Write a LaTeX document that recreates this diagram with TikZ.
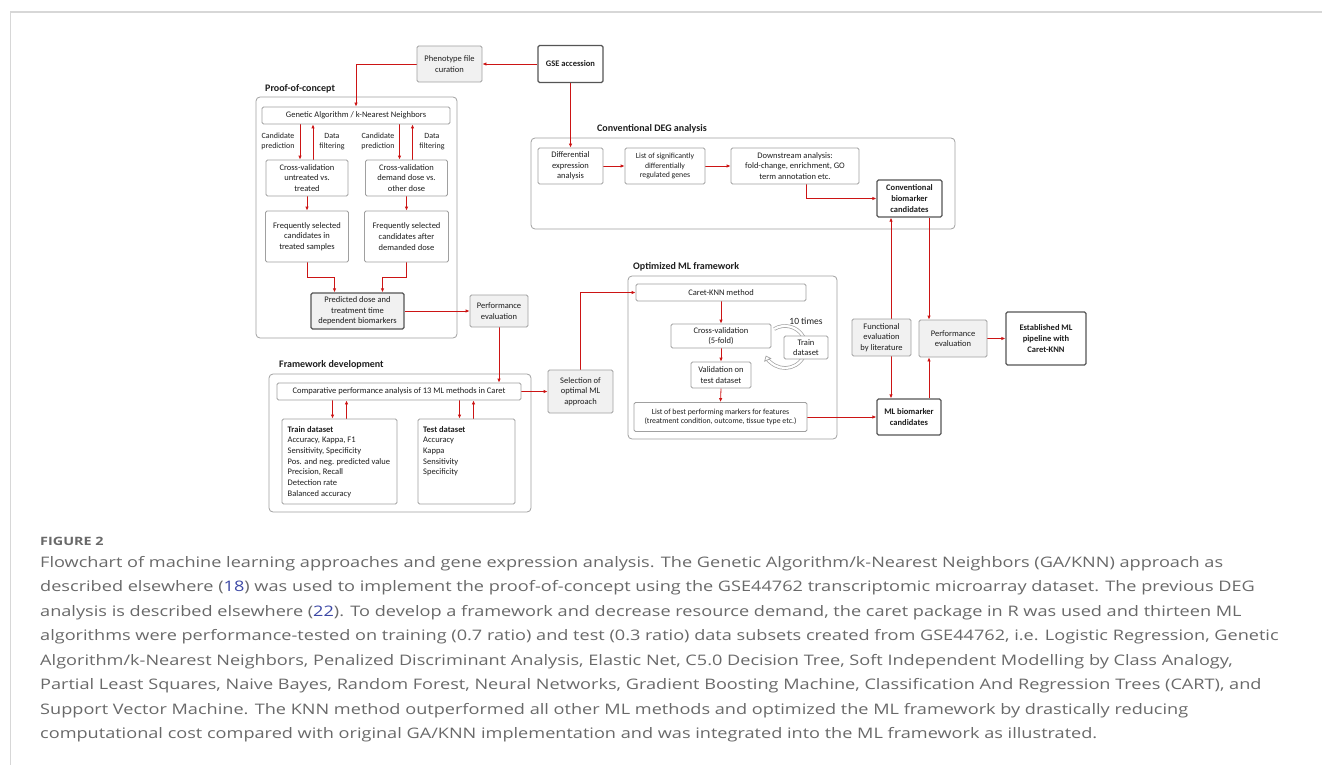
\documentclass[tikz,border=0pt]{standalone}
\usepackage{fontspec}
\setmainfont{Carlito}
\newfontfamily\capfont[FakeStretch=1.25]{Open Sans}
\usepackage{xcolor}
\usetikzlibrary{arrows.meta,backgrounds}
\pgfdeclarelayer{edgelayer}
\pgfdeclarelayer{nodelayer}
\pgfsetlayers{background,edgelayer,nodelayer,main}
\definecolor{arrowred}{RGB}{204,20,20}
\definecolor{boxgrey}{RGB}{160,160,160}
\definecolor{darkgrey}{RGB}{85,85,85}
\definecolor{fillgrey}{RGB}{241,241,241}
\definecolor{textgrey}{RGB}{30,30,30}
\definecolor{captiongrey}{RGB}{105,105,105}
\definecolor{rulegrey}{RGB}{215,215,215}
\definecolor{refblue}{RGB}{60,72,165}
\tikzstyle{box}=[draw=boxgrey,fill=white,rounded corners=1.5pt,inner sep=1pt,align=center,text=textgrey,line width=0.8pt,font=\fontsize{8.5}{10.7}\selectfont]
\tikzstyle{greybox}=[box,fill=fillgrey]
\tikzstyle{keybox}=[box,draw=darkgrey,line width=1.3pt,font=\bfseries\fontsize{8.5}{10.7}\selectfont]
\tikzstyle{smallbox}=[box,font=\fontsize{7.8}{9.6}\selectfont]
\tikzstyle{groupframe}=[draw=boxgrey,rounded corners=4pt,line width=0.8pt,inner sep=0pt]
\tikzstyle{framelabel}=[anchor=west,inner sep=0pt,text=textgrey,font=\bfseries\fontsize{10}{12}\selectfont]
\tikzstyle{sidelabel}=[inner sep=0pt,align=center,text=textgrey,font=\fontsize{8}{9.5}\selectfont]
\tikzstyle{listtext}=[inner sep=0pt,align=left,anchor=north west,text=textgrey,font=\fontsize{8.5}{10.7}\selectfont]
\tikzstyle{arr}=[draw=arrowred,line width=0.8pt,-{Latex[length=4pt,width=3.5pt]}]
\tikzstyle{looparrow}=[draw=boxgrey,double=white,double distance=2.2pt,line width=0.7pt,-{Triangle[open,length=5pt,width=8pt]}]
\tikzstyle{captiontext}=[inner sep=0pt,align=left,anchor=north west,text=captiongrey,font=\capfont\fontsize{14.5}{24.5}\selectfont]

\begin{document}
\begin{tikzpicture}[x=1pt,y=-1pt]
	\useasboundingbox (0,0) rectangle (1322,765);
	\draw [draw=rulegrey, line width=1.2pt] (1322,12) -- (10.5,12) -- (10.5,765);
	\begin{pgfonlayer}{nodelayer}
		\node [style=greybox, minimum width=65, minimum height=36] (pheno) at (449.5,64) {Phenotype file\\curation};
		\node [style=keybox, minimum width=65, minimum height=37] (gse) at (570.5,64) {GSE accession};
		\node [style=framelabel] (poclabel) at (265,89) {Proof-of-concept};
		\node [style=box, minimum width=188, minimum height=17] (ga) at (356,115.5) {Genetic Algorithm / k-Nearest Neighbors};
		\node [style=sidelabel] (candl) at (278,141.5) {Candidate\\prediction};
		\node [style=sidelabel] (filtl) at (332,141.5) {Data\\filtering};
		\node [style=sidelabel] (candr) at (378,141.5) {Candidate\\prediction};
		\node [style=sidelabel] (filtr) at (432,141.5) {Data\\filtering};
		\node [style=box, minimum width=82, minimum height=36] (cvl) at (307,178) {Cross-validation\\untreated vs.\\treated};
		\node [style=box, minimum width=82, minimum height=36] (cvr) at (406.5,178) {Cross-validation\\demand dose vs.\\other dose};
		\node [style=box, minimum width=83, minimum height=51] (freql) at (307,236.5) {Frequently selected\\candidates in\\treated samples};
		\node [style=box, minimum width=84, minimum height=51] (freqr) at (406.5,236.5) {Frequently selected\\candidates after\\demanded dose};
		\node [style=keybox, fill=fillgrey, font=\fontsize{8.5}{10.7}\selectfont, minimum width=93, minimum height=36] (pred) at (357.5,311) {Predicted dose and\\treatment time\\dependent biomarkers};
		\node [style=greybox, minimum width=58, minimum height=32] (perf1) at (499,311) {Performance\\evaluation};
		\node [style=framelabel] (fwlabel) at (279,365) {Framework development};
		\node [style=box, minimum width=244, minimum height=17] (comp) at (399,391.5) {Comparative performance analysis of 13 ML methods in Caret};
		\node [style=box, minimum width=115, minimum height=85] (train) at (339.5,461.5) {};
		\node [style=box, minimum width=97, minimum height=85] (test) at (466.5,461.5) {};
		\node [style=listtext] (trainlist) at (287.5,426) {\textbf{Train dataset}\\Accuracy, Kappa, F1\\Sensitivity, Specificity\\Pos. and neg. predicted value\\Precision, Recall\\Detection rate\\Balanced accuracy};
		\node [style=listtext] (testlist) at (423,426) {\textbf{Test dataset}\\Accuracy\\Kappa\\Sensitivity\\Specificity};
		\node [style=greybox, minimum width=65, minimum height=43] (sel) at (580.5,391.5) {Selection of\\optimal ML\\approach};
		\node [style=framelabel] (optlabel) at (633,267) {Optimized ML framework};
		\node [style=box, minimum width=170, minimum height=17] (caret) at (721,292.5) {Caret-KNN method};
		\node [style=box, minimum width=100, minimum height=24] (cv5) at (721,336) {Cross-validation\\(5-fold)};
		\node [style=box, minimum width=60, minimum height=26] (val) at (721,375) {Validation on\\test dataset};
		\node [style=smallbox, minimum width=173, minimum height=29] (list) at (720.5,417) {List of best performing markers for features\\(treatment condition, outcome, tissue type etc.)};
		\node [style=box, minimum width=44, minimum height=23] (train5) at (806,347.5) {Train\\dataset};
		\node [inner sep=0pt, text=textgrey, font=\fontsize{9.5}{11}\selectfont] (times) at (806,321) {10 times};
		\node [style=framelabel] (deglabel) at (597,129) {Conventional DEG analysis};
		\node [style=box, minimum width=65, minimum height=36] (diff) at (570.5,166) {Differential\\expression\\analysis};
		\node [style=smallbox, minimum width=80, minimum height=36] (sig) at (665,166) {List of significantly\\differentially\\regulated genes};
		\node [style=box, minimum width=128, minimum height=36] (down) at (795,166) {Downstream analysis:\\fold-change, enrichment, GO\\term annotation etc.};
		\node [style=keybox, minimum width=65, minimum height=37] (conv) at (909.5,198.5) {Conventional\\biomarker\\candidates};
		\node [style=greybox, minimum width=59, minimum height=37] (func) at (881.5,337.5) {Functional\\evaluation\\by literature};
		\node [style=greybox, minimum width=68, minimum height=37] (perf2) at (953,338.5) {Performance\\evaluation};
		\node [style=keybox, minimum width=80, minimum height=53] (est) at (1046,338.5) {Established ML\\pipeline with\\Caret-KNN};
		\node [style=keybox, minimum width=64, minimum height=36] (mlb) at (909,417) {ML biomarker\\candidates};
		\node [inner sep=0pt, anchor=base west, text=captiongrey, font=\capfont\bfseries\fontsize{11.5}{13}\selectfont] (figlabel) at (40,545.5) {FIGURE 2};
		\node [style=captiontext] (caption) at (40,556) {Flowchart of machine learning approaches and gene expression analysis. The Genetic Algorithm/k-Nearest Neighbors (GA/KNN) approach as\\
described elsewhere (\textcolor{refblue}{18}) was used to implement the proof-of-concept using the GSE44762 transcriptomic microarray dataset. The previous DEG\\
analysis is described elsewhere (\textcolor{refblue}{22}). To develop a framework and decrease resource demand, the caret package in R was used and thirteen ML\\
algorithms were performance-tested on training (0.7 ratio) and test (0.3 ratio) data subsets created from GSE44762, i.e. Logistic Regression, Genetic\\
Algorithm/k-Nearest Neighbors, Penalized Discriminant Analysis, Elastic Net, C5.0 Decision Tree, Soft Independent Modelling by Class Analogy,\\
Partial Least Squares, Naive Bayes, Random Forest, Neural Networks, Gradient Boosting Machine, Classification And Regression Trees (CART), and\\
Support Vector Machine. The KNN method outperformed all other ML methods and optimized the ML framework by drastically reducing\\
computational cost compared with original GA/KNN implementation and was integrated into the ML framework as illustrated.};
	\end{pgfonlayer}
	\begin{pgfonlayer}{edgelayer}
		\node [style=groupframe, minimum width=201, minimum height=241] (pocframe) at (356.5,217.5) {};
		\node [style=groupframe, minimum width=262, minimum height=138] (fwframe) at (400,443) {};
		\node [style=groupframe, minimum width=209, minimum height=163] (optframe) at (732.5,357.5) {};
		\node [style=groupframe, minimum width=424, minimum height=91] (degframe) at (743,183.5) {};
		\coordinate (loopc) at (785,347);
		\draw [style=looparrow] (loopc) ++(-121:21) arc [start angle=-121, end angle=156, radius=21];
		\draw [style=arr] (gse.west) to (pheno.east);
		\draw [style=arr] (pheno.west) -| (ga.north);
		\draw [style=arr] (gse.south) to (diff.north);
		\draw [style=arr] ([xshift=-7pt]cvl.north |- ga.south) to ([xshift=-7pt]cvl.north);
		\draw [style=arr] ([xshift=6pt]cvl.north) to ([xshift=6pt]cvl.north |- ga.south);
		\draw [style=arr] ([xshift=-7pt]cvr.north |- ga.south) to ([xshift=-7pt]cvr.north);
		\draw [style=arr] ([xshift=6pt]cvr.north) to ([xshift=6pt]cvr.north |- ga.south);
		\draw [style=arr] (cvl.south) to (freql.north);
		\draw [style=arr] (cvr.south) to (freqr.north);
		\draw [style=arr] (freql.south) -- ++(0,15) -| ([xshift=-23pt]pred.north);
		\draw [style=arr] (freqr.south) -- ++(0,15) -| ([xshift=25pt]pred.north);
		\draw [style=arr] (pred.east) to (perf1.west);
		\draw [style=arr] (perf1.south) to (perf1.south |- comp.north);
		\draw [style=arr] ([xshift=-7pt]train.north |- comp.south) to ([xshift=-7pt]train.north);
		\draw [style=arr] ([xshift=7pt]train.north) to ([xshift=7pt]train.north |- comp.south);
		\draw [style=arr] ([xshift=-7pt]test.north |- comp.south) to ([xshift=-7pt]test.north);
		\draw [style=arr] ([xshift=7pt]test.north) to ([xshift=7pt]test.north |- comp.south);
		\draw [style=arr] (comp.east) to (sel.west);
		\draw [style=arr] (sel.north) |- (caret.west);
		\draw [style=arr] (caret.south) to (cv5.north);
		\draw [style=arr] (cv5.south) to (val.north);
		\draw [style=arr] (val.south) to (list.north);
		\draw [style=arr] (list.east) to (mlb.west);
		\draw [style=arr] (diff.east) to (sig.west);
		\draw [style=arr] (sig.east) to (down.west);
		\draw [style=arr] ([xshift=11pt]down.south) |- (conv.west);
		\draw [style=arr] ([xshift=9.5pt]func.north) to ([xshift=9.5pt]func.north |- conv.south);
		\draw [style=arr] ([xshift=9.5pt]func.south) to ([xshift=9.5pt]func.south |- mlb.north);
		\draw [style=arr] ([xshift=-24pt]perf2.north |- conv.south) to ([xshift=-24pt]perf2.north);
		\draw [style=arr] ([xshift=-24pt]perf2.south |- mlb.north) to ([xshift=-24pt]perf2.south);
		\draw [style=arr] (perf2.east) to (est.west);
	\end{pgfonlayer}
\end{tikzpicture}
\end{document}
